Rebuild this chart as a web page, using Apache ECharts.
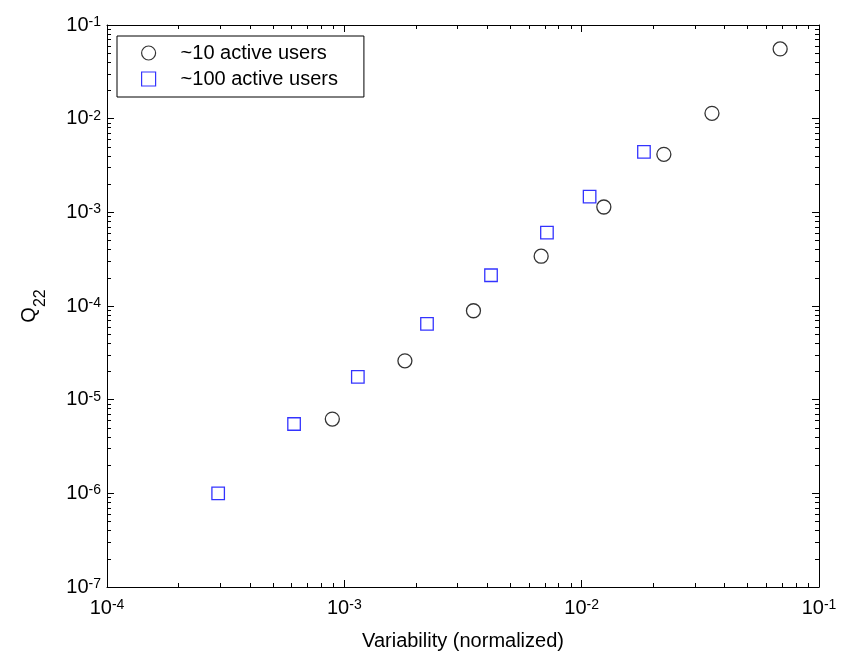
<!DOCTYPE html>
<html>
<head>
<meta charset="utf-8">
<title>Q22 vs variability</title>
<script src="https://cdn.jsdelivr.net/npm/echarts@6.0.0/dist/echarts.min.js"></script>
<style>
  html, body { margin: 0; padding: 0; background: #fff; }
  #chart { width: 841px; height: 654px; }
</style>
</head>
<body>
<div id="chart"></div>
<script>
// ~10 active users (circles)
var circleX = [8.9e-4, 1.8e-3, 3.5e-3, 6.75e-3, 1.24e-2, 2.22e-2, 3.54e-2, 6.86e-2];
var circleY = [6.2e-6, 2.6e-5, 8.9e-5, 3.4e-4, 1.14e-3, 4.16e-3, 1.14e-2, 5.55e-2];
// ~100 active users (squares)
var squareX = [2.94e-4, 6.14e-4, 1.14e-3, 2.23e-3, 4.15e-3, 7.14e-3, 1.08e-2, 1.83e-2];
var squareY = [1.0e-6, 5.5e-6, 1.75e-5, 6.43e-5, 2.13e-4, 6.07e-4, 1.47e-3, 4.41e-3];

var xMajor = [1e-4, 1e-3, 1e-2, 1e-1];
var yMajor = [1e-7, 1e-6, 1e-5, 1e-4, 1e-3, 1e-2, 1e-1];

var seriesNames = ['~10 active users', '~100 active users'];

var font = 'Liberation Sans, Arial, sans-serif';

// 2..9 times each decade, for the small ticks
var minorTicks = function(lo, hi) {
	var out = [];
	for (var e = lo; e < hi; e++) {
		for (var k = 2; k < 10; k++) {
			out.push(k * Math.pow(10, e));
		}
	}
	return out;
};
var xMinor = minorTicks(-4, -1);
var yMinor = minorTicks(-7, -1);

var pairs = function(xs, ys) {
	var out = [];
	for (var i = 0; i < xs.length; i++) {
		out.push([xs[i], ys[i]]);
	}
	return out;
};

var powLabel = function(v) {
	var e = Math.round(Math.log(v) / Math.LN10);
	return '{b|10}{s|' + (e < 0 ? '-' + (-e) : e) + '}';
};
var powRich = {
	b: { fontFamily: font, fontSize: 20, lineHeight: 20, padding: [4, 0, 0, 0], verticalAlign: 'bottom', color: '#000' },
	s: { fontFamily: font, fontSize: 14, lineHeight: 14, verticalAlign: 'top', color: '#000' }
};

var blackLine = { show: true, lineStyle: { color: '#000', width: 1 } };

// one log axis: with line + long ticks, or only the short ticks
var makeAxis = function(pos, lo, hi, ticks, len, withLine, withLabels) {
	var ax = {
		type: 'log',
		logBase: 10,
		min: lo,
		max: hi,
		position: pos,
		splitLine: { show: false },
		axisLine: withLine ? blackLine : { show: false },
		axisTick: {
			show: true,
			inside: true,
			length: len,
			customValues: ticks,
			lineStyle: { color: '#000', width: 1 }
		},
		axisLabel: { show: false }
	};
	if (withLabels) {
		ax.axisLabel = {
			show: true,
			customValues: ticks,
			formatter: powLabel,
			rich: powRich,
			hideOverlap: false,
			showMinLabel: true,
			showMaxLabel: true,
			margin: (pos === 'bottom') ? 11 : 6
		};
	}
	return ax;
};

var myChart = echarts.init(document.getElementById('chart'));

var xAxes = [
	makeAxis('bottom', 1e-4, 1e-1, xMajor, 7, true, true),
	makeAxis('bottom', 1e-4, 1e-1, xMinor, 4, false, false),
	makeAxis('top', 1e-4, 1e-1, xMajor, 7, true, false),
	makeAxis('top', 1e-4, 1e-1, xMinor, 4, false, false)
];
xAxes[0].name = 'Variability (normalized)';
xAxes[0].nameLocation = 'middle';
xAxes[0].nameGap = 44;
xAxes[0].nameTextStyle = { fontFamily: font, fontSize: 20, color: '#000' };

var yAxes = [
	makeAxis('left', 1e-7, 1e-1, yMajor, 7, true, true),
	makeAxis('left', 1e-7, 1e-1, yMinor, 4, false, false),
	makeAxis('right', 1e-7, 1e-1, yMajor, 7, true, false),
	makeAxis('right', 1e-7, 1e-1, yMinor, 4, false, false)
];
yAxes[0].name = '{q|Q}{s|22}';
yAxes[0].nameLocation = 'middle';
yAxes[0].nameRotate = 90;
yAxes[0].nameGap = 58;
yAxes[0].nameTextStyle = {
	color: '#000',
	rich: {
		q: { fontFamily: font, fontSize: 20, lineHeight: 20, padding: [0, 0, 10, 0], verticalAlign: 'bottom', color: '#000' },
		s: { fontFamily: font, fontSize: 16, lineHeight: 16, verticalAlign: 'bottom', color: '#000' }
	}
};

myChart.setOption({
	animation: false,
	backgroundColor: '#fff',
	grid: {
		left: 107,
		right: 22,
		top: 25,
		bottom: 67,
		containLabel: false,
		outerBoundsMode: 'none'
	},
	legend: {
		orient: 'vertical',
		left: 117,
		top: 36,
		padding: [7, 26, 8, 24],
		itemWidth: 14,
		itemHeight: 14,
		itemGap: 6,
		backgroundColor: '#fff',
		borderColor: '#000',
		borderWidth: 1,
		borderRadius: 0,
		textStyle: { fontFamily: font, fontSize: 20, lineHeight: 20, color: '#000', padding: [0, 0, 0, 20] },
		data: [
			{ name: seriesNames[0], icon: 'circle', itemStyle: { color: '#fff', borderColor: '#000', borderWidth: 1.2 } },
			{ name: seriesNames[1], icon: 'rect', itemStyle: { color: '#fff', borderColor: '#0000ff', borderWidth: 1.2 } }
		]
	},
	xAxis: xAxes,
	yAxis: yAxes,
	series: [{
		name: seriesNames[0],
		type: 'scatter',
		xAxisIndex: 0,
		yAxisIndex: 0,
		symbol: 'circle',
		symbolSize: 14,
		itemStyle: { color: 'rgba(0,0,0,0)', borderColor: '#000', borderWidth: 1.3 },
		emphasis: { disabled: true },
		data: pairs(circleX, circleY)
	}, {
		name: seriesNames[1],
		type: 'scatter',
		xAxisIndex: 0,
		yAxisIndex: 0,
		symbol: 'rect',
		symbolSize: 12.5,
		itemStyle: { color: 'rgba(0,0,0,0)', borderColor: '#0000ff', borderWidth: 1.3 },
		emphasis: { disabled: true },
		data: pairs(squareX, squareY)
	}]
});
</script>
</body>
</html>
